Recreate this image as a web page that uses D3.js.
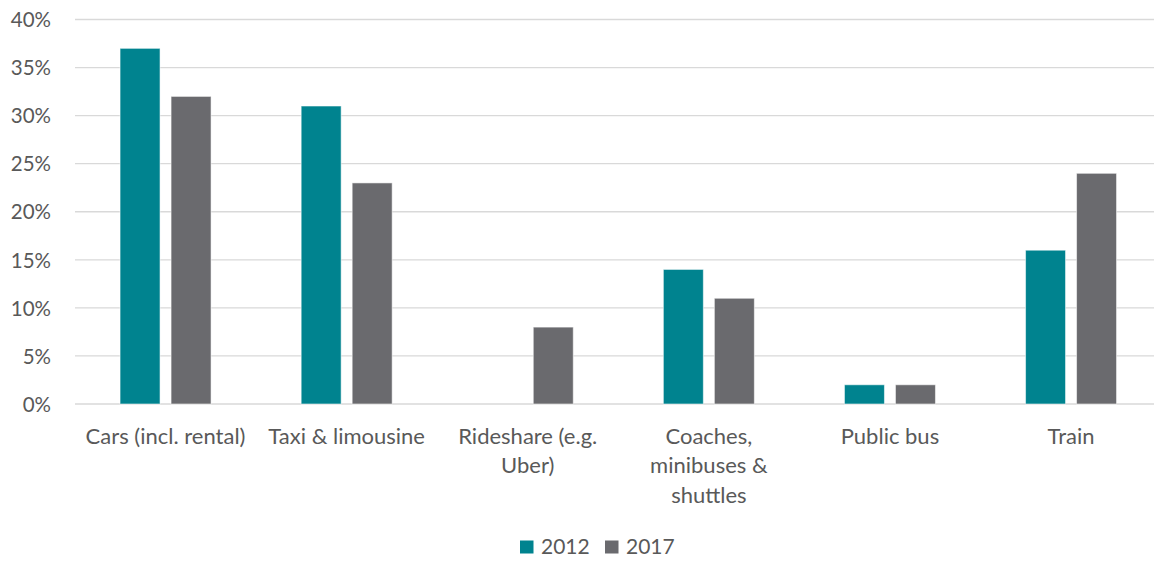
<!DOCTYPE html>
<html>
<head>
<meta charset="utf-8">
<script src="https://cdn.jsdelivr.net/npm/d3@7"></script>
<style>
  html, body { margin: 0; padding: 0; background: #fff; }
  svg { display: block; font-family: "Lato", "Open Sans", sans-serif; }
</style>
</head>
<body>
<svg id="chart" width="1154" height="561"></svg>
<script>
// Travel mode shares, 2012 vs 2017
const categories = ["Cars (incl. rental)", "Taxi & limousine", "Rideshare (e.g.\nUber)", "Coaches,\nminibuses &\nshuttles", "Public bus", "Train"];
const seriesNames = ["2012", "2017"];
const values2012 = [37, 31, null, 14, 2, 16];
const values2017 = [32, 23, 8, 11, 2, 24];
const yTicks = [0, 5, 10, 15, 20, 25, 30, 35, 40];
const colors = ["#00838F", "#6A6A6E"];

const svg = d3.select("#chart");
const textColor = "#595959";
const fontFamily = "Lato, 'Open Sans', sans-serif";

const plot = { left: 75, right: 1161.6, top: 19.5, bottom: 404 };

const y = d3.scaleLinear().domain([0, 40]).range([plot.bottom, plot.top]);

const x0 = d3.scaleBand()
  .domain(categories)
  .range([plot.left, plot.right])
  .paddingInner(0.4975)
  .paddingOuter(0.24875);

const x1 = d3.scaleBand()
  .domain(seriesNames)
  .range([0, x0.bandwidth()])
  .paddingInner(0.216);

// gridlines
svg.append("g")
  .selectAll("line")
  .data(yTicks)
  .join("line")
  .attr("x1", plot.left)
  .attr("x2", plot.right)
  .attr("y1", d => y(d))
  .attr("y2", d => y(d))
  .attr("stroke", "#d9d9d9")
  .attr("stroke-width", 1.3);

// y-axis labels
const yAxis = d3.axisLeft(y).tickValues(yTicks).tickFormat(d => d + "%").tickSize(0).tickPadding(0);
const yg = svg.append("g").attr("transform", "translate(51,0)").call(yAxis);
yg.select(".domain").remove();
yg.selectAll("text")
  .attr("fill", textColor)
  .style("font-size", "20.5px")
  .style("font-family", fontFamily)
  .attr("dy", "0.35em");

// bars
const rows = categories.map((c, i) => ({ cat: c, vals: [values2012[i], values2017[i]] }));
const groups = svg.append("g")
  .selectAll("g")
  .data(rows)
  .join("g")
  .attr("transform", d => `translate(${x0(d.cat)},0)`);

groups.selectAll("rect")
  .data(d => d.vals.map((v, j) => ({ key: seriesNames[j], v, j })).filter(e => e.v != null))
  .join("rect")
  .attr("x", d => x1(d.key))
  .attr("width", x1.bandwidth())
  .attr("y", d => y(d.v))
  .attr("height", d => y(0) - y(d.v))
  .attr("fill", d => colors[d.j])
  .attr("stroke", "rgba(255,255,255,0.55)")
  .attr("stroke-width", 1);

// category labels
const xAxis = d3.axisBottom(x0).tickSize(0).tickPadding(0);
const xg = svg.append("g").attr("transform", `translate(0,${plot.bottom})`).call(xAxis);
xg.select(".domain").remove();
xg.selectAll(".tick text").each(function(d) {
  const t = d3.select(this);
  t.text(null).attr("y", null).attr("dy", null)
    .attr("fill", textColor)
    .style("font-size", "22px")
    .style("font-family", fontFamily);
  d.split("\n").forEach((line, k) => {
    t.append("tspan").attr("x", 0).attr("y", 32 + k * 29.5).attr("dy", "0.35em").text(line);
  });
});

// legend
const legend = svg.append("g").attr("transform", "translate(520,547)");
const items = [{ x: 0 }, { x: 85 }];
items.forEach((it, i) => {
  const g = legend.append("g").attr("transform", `translate(${it.x},0)`);
  g.append("rect").attr("x", 0).attr("y", -6.5).attr("width", 13.5).attr("height", 13).attr("fill", colors[i]);
  g.append("text").attr("x", 21).attr("y", 0).attr("dy", "0.35em")
    .attr("fill", textColor).style("font-size", "21px")
    .style("font-family", fontFamily)
    .text(seriesNames[i]);
});
</script>
</body>
</html>
